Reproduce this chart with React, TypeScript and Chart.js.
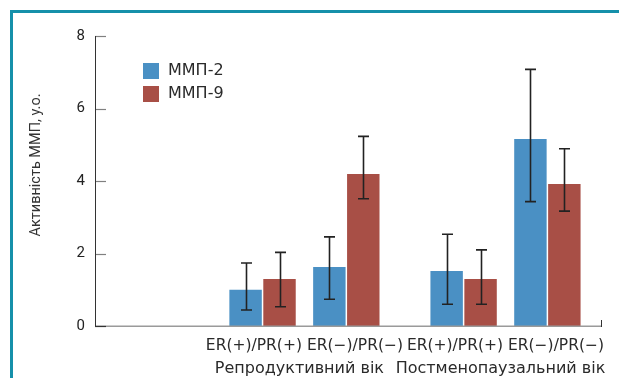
import React, { useEffect, useRef } from "react";
import { Chart, registerables } from "chart.js";

Chart.register(...registerables);

const groups = ["Репродуктивний вік", "Постменопаузальний вік"];
const categories = ["ER(+)/PR(+)", "ER(−)/PR(−)", "ER(+)/PR(+)", "ER(−)/PR(−)"];
const categoryGroup = [0, 0, 1, 1];
const categoryX = [10, 15, 22, 27];
const seriesNames = ["ММП-2", "ММП-9"];
const mmp2 = [1.0, 1.63, 1.52, 5.16];
const mmp2Hi = [1.74, 2.46, 2.53, 7.08];
const mmp2Lo = [0.44, 0.74, 0.6, 3.43];
const mmp9 = [1.3, 4.19, 1.3, 3.92];
const mmp9Hi = [2.03, 5.23, 2.1, 4.89];
const mmp9Lo = [0.53, 3.51, 0.6, 3.17];
const yTicks = [0, 2, 4, 6, 8];
const yTitle = "Активність ММП, у.о.";

const COLORS = ["#4a90c4", "#a84f46"];
const LABEL_FONT = "DejaVu Sans";
const NUM_FONT = "Roboto";

export default function App() {
  const ref = useRef<HTMLCanvasElement | null>(null);

  useEffect(() => {
    const canvas = ref.current;
    if (!canvas) return;
    const hi = [mmp2Hi, mmp9Hi];
    const lo = [mmp2Lo, mmp9Lo];

    const overlay = {
      id: "overlay",
      afterDatasetsDraw(chart: any) {
        const ctx = chart.ctx as CanvasRenderingContext2D;
        const area = chart.chartArea;
        const ys = chart.scales.y;
        const xs = chart.scales.x;
        ctx.save();
        // error bars
        chart.data.datasets.forEach((_: any, di: number) => {
          const meta = chart.getDatasetMeta(di);
          meta.data.forEach((el: any, i: number) => {
            const x = Math.round(el.x) + 0.5;
            const yh = ys.getPixelForValue(hi[di][i]);
            const yl = ys.getPixelForValue(lo[di][i]);
            ctx.strokeStyle = "#222";
            ctx.lineWidth = 1.6;
            ctx.beginPath();
            ctx.moveTo(x, yh);
            ctx.lineTo(x, yl);
            ctx.moveTo(x - 5.5, yh);
            ctx.lineTo(x + 5.5, yh);
            ctx.moveTo(x - 5.5, yl);
            ctx.lineTo(x + 5.5, yl);
            ctx.stroke();
          });
        });
        // x axis line
        ctx.strokeStyle = "#9a9a9a";
        ctx.lineWidth = 1.5;
        ctx.beginPath();
        ctx.moveTo(area.left, area.bottom + 0.25);
        ctx.lineTo(area.right, area.bottom + 0.25);
        ctx.stroke();
        // right-end tick
        ctx.strokeStyle = "#333";
        ctx.lineWidth = 1;
        ctx.beginPath();
        ctx.moveTo(Math.round(area.right) + 0.5, area.bottom + 1);
        ctx.lineTo(Math.round(area.right) + 0.5, area.bottom - 6);
        ctx.stroke();
        // y ticks (inward)
        yTicks.forEach((v) => {
          const y = Math.round(ys.getPixelForValue(v)) + 0.5;
          ctx.strokeStyle = v === 0 ? "#333" : "#808080";
          ctx.lineWidth = 1.2;
          ctx.beginPath();
          ctx.moveTo(area.left, y);
          ctx.lineTo(area.left + 11, y);
          ctx.stroke();
        });
        // y axis line
        ctx.strokeStyle = "#333";
        ctx.lineWidth = 1;
        ctx.beginPath();
        ctx.moveTo(Math.round(area.left) + 0.5, area.top);
        ctx.lineTo(Math.round(area.left) + 0.5, area.bottom + 1);
        ctx.stroke();

        // y title
        ctx.save();
        ctx.translate(area.left - 59, (area.top + area.bottom) / 2 - 16);
        ctx.rotate(-Math.PI / 2);
        ctx.font = `14.5px ${NUM_FONT}`;
        ctx.fillStyle = "#333";
        ctx.textAlign = "center";
        ctx.textBaseline = "middle";
        ctx.fillText(yTitle, 0, 0);
        ctx.restore();

        // legend
        ctx.font = `16px ${LABEL_FONT}`;
        ctx.textBaseline = "middle";
        ctx.textAlign = "left";
        seriesNames.forEach((name, i) => {
          const bx = area.left + 48;
          const by = area.top + 27 + i * 23;
          ctx.fillStyle = COLORS[i];
          ctx.fillRect(bx, by, 16, 16);
          ctx.fillStyle = "#2a2a2a";
          ctx.fillText(name, bx + 25, by + 8);
        });

        // category labels
        ctx.fillStyle = "#2a2a2a";
        ctx.textBaseline = "alphabetic";
        ctx.textAlign = "center";
        const gap = 5;
        groups.forEach((g, gi) => {
          const idx = categoryGroup
            .map((cg, i) => (cg === gi ? i : -1))
            .filter((i) => i >= 0);
          const px = idx.map((i) => xs.getPixelForValue(categoryX[i]));
          const gc = px.reduce((a, b) => a + b, 0) / px.length;
          ctx.font = `15.5px ${LABEL_FONT}`;
          const w = idx.map((i) => ctx.measureText(categories[i]).width);
          let c0 = px[0];
          let c1 = px[1];
          if (c0 + w[0] / 2 + gap / 2 > gc || c1 - w[1] / 2 - gap / 2 < gc) {
            c0 = gc - gap / 2 - w[0] / 2;
            c1 = gc + gap / 2 + w[1] / 2;
          }
          ctx.fillText(categories[idx[0]], c0, area.bottom + 24);
          ctx.fillText(categories[idx[1]], c1, area.bottom + 24);
          ctx.font = `16px ${LABEL_FONT}`;
          ctx.fillText(g, gc - 5, area.bottom + 47);
        });
        ctx.restore();
      },
    };

    const chart = new Chart(canvas, {
      type: "bar",
      data: {
        datasets: [
          {
            label: seriesNames[0],
            data: categoryX.map((x, i) => ({ x, y: mmp2[i] })),
            backgroundColor: COLORS[0],
            borderWidth: 0,
          },
          {
            label: seriesNames[1],
            data: categoryX.map((x, i) => ({ x, y: mmp9[i] })),
            backgroundColor: COLORS[1],
            borderWidth: 0,
          },
        ],
      },
      options: {
        responsive: false,
        animation: false,
        devicePixelRatio: 1,
        categoryPercentage: 0.81,
        barPercentage: 0.956,
        layout: { padding: { left: 0, right: 18, top: 23, bottom: 0 } },
        plugins: {
          legend: { display: false },
          tooltip: { enabled: false },
        },
        scales: {
          x: {
            type: "linear",
            min: 0,
            max: 30.2,
            offset: false,
            grid: { display: false },
            border: { display: false },
            ticks: { display: false },
            afterBuildTicks: (scale: any) => {
              scale.ticks = categoryX.map((v) => ({ value: v }));
            },
            afterFit: (scale: any) => {
              scale.height = 52;
            },
          },
          y: {
            min: 0,
            max: 8,
            grid: { display: false, drawTicks: false },
            border: { display: false },
            ticks: {
              stepSize: 2,
              padding: 10,
              color: "#222",
              font: { family: NUM_FONT, size: 15 },
            },
            afterFit: (scale: any) => {
              scale.width = 82;
            },
          },
        },
      } as any,
      plugins: [overlay],
    });
    return () => chart.destroy();
  }, []);

  return (
    <div
      style={{
        position: "fixed",
        left: 10,
        top: 10,
        width: 609,
        height: 368,
        borderLeft: "3px solid #1590aa",
        borderTop: "3px solid #1590aa",
        boxSizing: "border-box",
        background: "#fff",
      }}
    >
      <canvas ref={ref} width={606} height={365} style={{ display: "block" }} />
    </div>
  );
}
